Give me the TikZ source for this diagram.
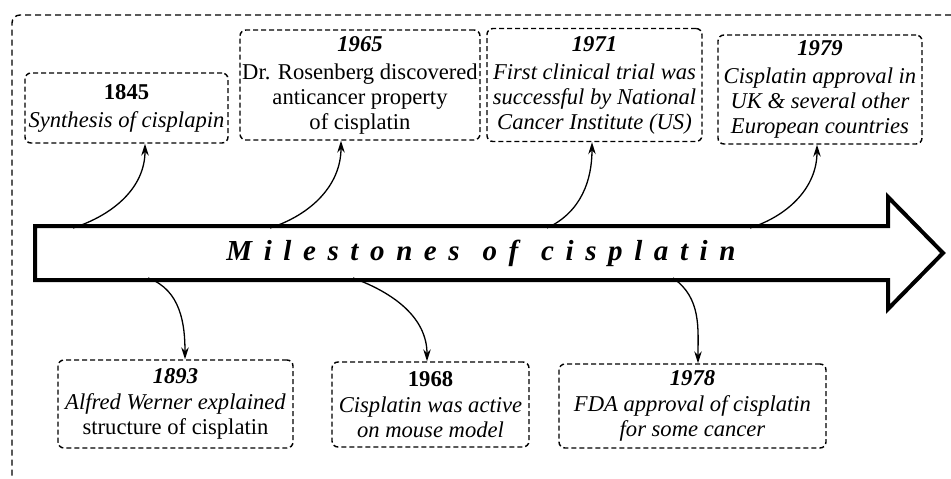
\documentclass[tikz,border=0pt]{standalone}
\usepackage{fontspec}
\setmainfont{Liberation Serif}
\newfontfamily\spacedfont[LetterSpace=40]{Liberation Serif}
\usetikzlibrary{arrows.meta}
\tikzset{
  evbox/.style={draw, dashed, dash pattern=on 5pt off 3pt, line width=1.4pt, rounded corners=6pt,
    align=center, inner sep=0pt, font=\fontsize{22.6}{25}\selectfont},
  conn/.style={line width=1.3pt, -{Stealth[length=12pt,width=7.5pt]}},
  frame/.style={dashed, dash pattern=on 6pt off 4pt, line width=1.4pt, rounded corners=8pt},
  bigarrow/.style={line width=4pt, line join=miter},
}
\begin{document}
\begin{tikzpicture}[x=1pt,y=1pt]
\useasboundingbox (0,0) rectangle (951,-479);
% outer frame
\draw[frame] (951,-15) -- (12,-15) -- (12,-479);
% big arrow
\draw[bigarrow] (35,-226) -- (888,-226) -- (888,-197) -- (943,-253) -- (888,-309) -- (888,-280) -- (35,-280) -- cycle;
\node[font=\spacedfont\fontsize{29}{32}\selectfont\bfseries\itshape] (title) at (481,-253) {Milestones\hspace{4pt} of\hspace{4pt} cisplatin};
% anchor coordinates on the arrow
\coordinate (s1845) at (73,-228);
\coordinate (s1965) at (270,-228);
\coordinate (s1971) at (547,-228);
\coordinate (s1979) at (750,-228);
\coordinate (s1893) at (148,-278);
\coordinate (s1968) at (353,-278);
\coordinate (s1978) at (673,-278);
% top boxes
\node[evbox, minimum width=203pt, minimum height=70pt] (b1845) at (126.5,-108)
  {\textbf{1845}\\[3pt]\textit{Synthesis of cisplapin}};
\node[evbox, minimum width=240pt, minimum height=110pt] (b1965) at (360,-85)
  {\textbf{\textit{1965}}\\[3pt]Dr. Rosenberg discovered\\anticancer property\\of cisplatin};
\node[evbox, minimum width=215pt, minimum height=113pt] (b1971) at (594.5,-85)
  {\textbf{\textit{1971}}\\[3pt]\textit{First clinical trial was}\\\textit{successful by National}\\\textit{Cancer Institute (US)}};
\node[evbox, minimum width=204pt, minimum height=109pt] (b1979) at (820,-89.5)
  {\textbf{\textit{1979}}\\[3pt]\textit{Cisplatin approval in}\\\textit{UK \& several other}\\\textit{European countries}};
% bottom boxes
\node[evbox, minimum width=235pt, minimum height=88pt] (b1893) at (175.5,-404)
  {\textbf{\textit{1893}}\\[1pt]\textit{Alfred Werner explained}\\structure of cisplatin};
\node[evbox, minimum width=197pt, minimum height=85pt] (b1968) at (430.5,-404.5)
  {\textbf{1968}\\[1pt]\textit{Cisplatin was active}\\\textit{on mouse model}};
\node[evbox, minimum width=267pt, minimum height=84pt] (b1978) at (692.5,-406)
  {\textbf{\textit{1978}}\\[1pt]\textit{FDA approval of cisplatin}\\\textit{for some cancer}};
% connectors
\draw[conn] (s1845) to[out=18,in=-90] ([xshift=18.5pt]b1845.south);
\draw[conn] (s1965) to[out=18,in=-90] ([xshift=-19pt]b1965.south);
\draw[conn] (s1971) to[out=25,in=-90] ([xshift=-2.5pt]b1971.south);
\draw[conn] (s1979) to[out=18,in=-90] ([xshift=-3pt]b1979.south);
\draw[conn] (s1893) to[out=-20,in=90] ([xshift=9.5pt]b1893.north);
\draw[conn] (s1968) to[out=-20,in=90] ([xshift=-3.5pt]b1968.north);
\draw[conn] (s1978) to[out=-35,in=90] ([xshift=5.5pt]b1978.north);
\end{tikzpicture}
\end{document}
